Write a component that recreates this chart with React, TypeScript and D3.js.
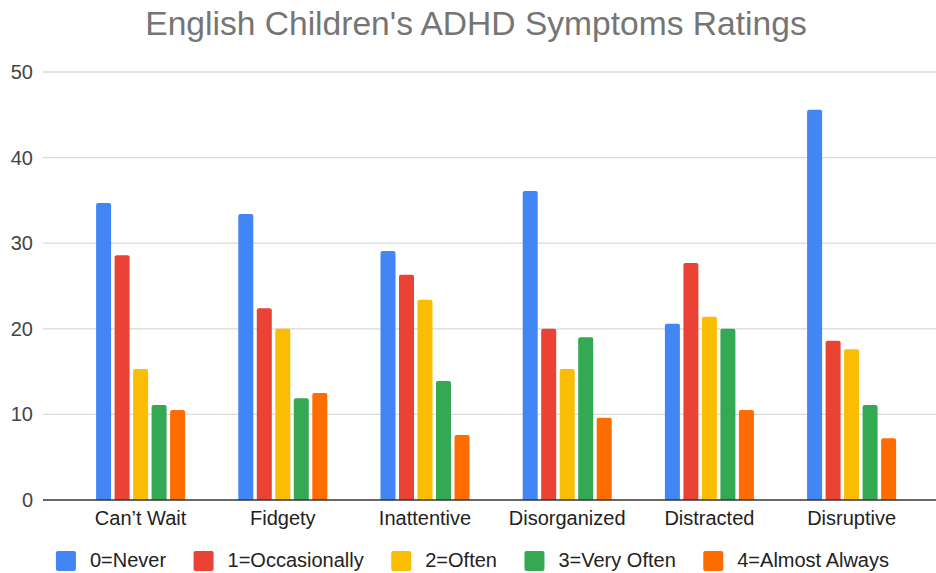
import React from "react";
import * as d3 from "d3";

const categories = ["Can’t Wait", "Fidgety", "Inattentive", "Disorganized", "Distracted", "Disruptive"];
const seriesNames = ["0=Never", "1=Occasionally", "2=Often", "3=Very Often", "4=Almost Always"];
const colors = ["#4285F4", "#EA4335", "#FBBC04", "#34A853", "#FF6D01"];
const never = [34.7, 33.4, 29.1, 36.1, 20.6, 45.6];
const occasionally = [28.6, 22.4, 26.3, 20.0, 27.7, 18.6];
const often = [15.3, 20.0, 23.4, 15.3, 21.4, 17.6];
const veryOften = [11.1, 11.9, 13.9, 19.0, 20.0, 11.1];
const almostAlways = [10.5, 12.5, 7.6, 9.6, 10.5, 7.2];
const yTicks = [0, 10, 20, 30, 40, 50];
const title = "English Children's ADHD Symptoms Ratings";

const seriesValues = [never, occasionally, often, veryOften, almostAlways];

const W = 936;
const H = 573;
const FONT = "'Liberation Sans', Arial, sans-serif";

function topRounded(x: number, y: number, w: number, h: number, r: number) {
  const rr = Math.min(r, h / 2, w / 2);
  return `M${x},${y + h}V${y + rr}Q${x},${y} ${x + rr},${y}H${x + w - rr}Q${x + w},${y} ${x + w},${y + rr}V${y + h}Z`;
}

function measure(text: string, size: number) {
  const c = document.createElement("canvas").getContext("2d");
  if (!c) return text.length * size * 0.5;
  c.font = `${size}px 'Liberation Sans', Arial, sans-serif`;
  return c.measureText(text).width;
}

export default function App() {
  const y = d3.scaleLinear().domain([0, 50]).range([500, 72]);
  const x0 = d3.scaleBand<string>().domain(categories).range([69.5, 922.7]).padding(0);
  const groupW = 89;
  const x1 = d3.scaleBand<string>().domain(seriesNames).range([0, groupW]).paddingInner(3.5 / 18.5).paddingOuter(0);

  // legend layout
  const sq = 20;
  const textGap = 14;
  const itemGap = 27.5;
  const widths = seriesNames.map((s) => measure(s, 20));
  const itemWidths = widths.map((w) => sq + textGap + w);
  const total = d3.sum(itemWidths) + itemGap * (seriesNames.length - 1);
  let cursor = 473 - total / 2;
  const legendX = itemWidths.map((w) => {
    const p = cursor;
    cursor += w + itemGap;
    return p;
  });

  return (
    <svg width={W} height={H} style={{ position: "absolute", left: 0, top: 0, background: "#fff" }} fontFamily={FONT}>
      <rect x={0} y={0} width={W} height={H} fill="#fff" />
      <text x={476} y={35} textAnchor="middle" fontSize={33.6} fill="#757575">
        {title}
      </text>
      {yTicks.map((t) => (
        <g key={t}>
          {t !== 0 && <line x1={43} x2={W} y1={y(t)} y2={y(t)} stroke="#d9d9d9" strokeWidth={1.3} />}
          <text x={33} y={y(t)} dy="0.35em" textAnchor="end" fontSize={20} fill="#444">
            {t}
          </text>
        </g>
      ))}
      {categories.map((c, ci) => {
        const gx = (x0(c) as number) + x0.bandwidth() / 2 - groupW / 2;
        return (
          <g key={c}>
            {seriesNames.map((s, si) => {
              const v = seriesValues[si][ci];
              const bx = gx + (x1(s) as number);
              const by = y(v);
              return <path key={s} d={topRounded(bx, by, x1.bandwidth(), y(0) - by, 2)} fill={colors[si]} />;
            })}
            <text x={(x0(c) as number) + x0.bandwidth() / 2} y={525} textAnchor="middle" fontSize={20} fill="#222">
              {c}
            </text>
          </g>
        );
      })}
      <line x1={43} x2={W} y1={y(0)} y2={y(0)} stroke="#333" strokeWidth={1.5} />
      {seriesNames.map((s, i) => (
        <g key={s}>
          <rect x={legendX[i]} y={551} width={sq} height={sq} rx={2} fill={colors[i]} />
          <text x={legendX[i] + sq + textGap} y={566.5} fontSize={20} fill="#222">
            {s}
          </text>
        </g>
      ))}
    </svg>
  );
}
